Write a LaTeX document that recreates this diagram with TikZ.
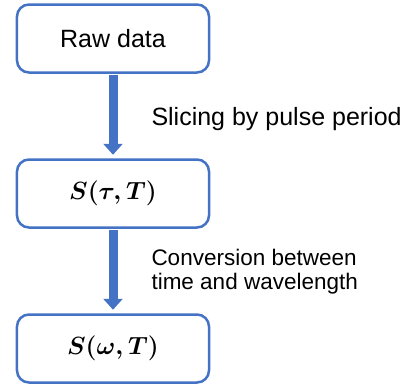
\documentclass[tikz,border=0pt]{standalone}
\usepackage{amsmath}
\usepackage{fontspec}
\setmainfont{Liberation Sans}
\usepackage{tikz}
\usetikzlibrary{arrows.meta, positioning}

\definecolor{flowblue}{RGB}{68,114,196}

\begin{document}
\begin{tikzpicture}[
  font=\fontsize{22.5}{23.8}\selectfont,
  node distance=84.5pt,
  box/.style={draw=flowblue, line width=2.5pt, rounded corners=12pt, align=center, minimum height=68pt, minimum width=192pt, fill=white},
  mathbox/.style={box, font=\fontsize{23}{26}\selectfont},
  arrow/.style={-{Triangle[width=19pt, length=11pt]}, draw=flowblue, line width=9pt, shorten <=1.5pt, shorten >=3.5pt},
  note/.style={align=left, anchor=west, inner sep=0pt}
]

\useasboundingbox (-113pt,38.5pt) rectangle (290pt,-344.5pt);

\node[box, font=\fontsize{25}{28}\selectfont] (raw) {Raw data};
\node[mathbox, below=of raw] (stau) {$\boldsymbol{S(\tau,T)}$};
\node[mathbox, below=of stau] (somega) {$\boldsymbol{S(\omega,T)}$};

\draw[arrow] (raw) -- node[note, midway, xshift=34pt, yshift=-3.5pt, font=\fontsize{25}{28}\selectfont] (slice) {Slicing by pulse period} (stau);
\draw[arrow] (stau) -- node[note, midway, xshift=34pt, yshift=-1pt] (convert) {Conversion between\\time and wavelength} (somega);
\end{tikzpicture}
\end{document}
